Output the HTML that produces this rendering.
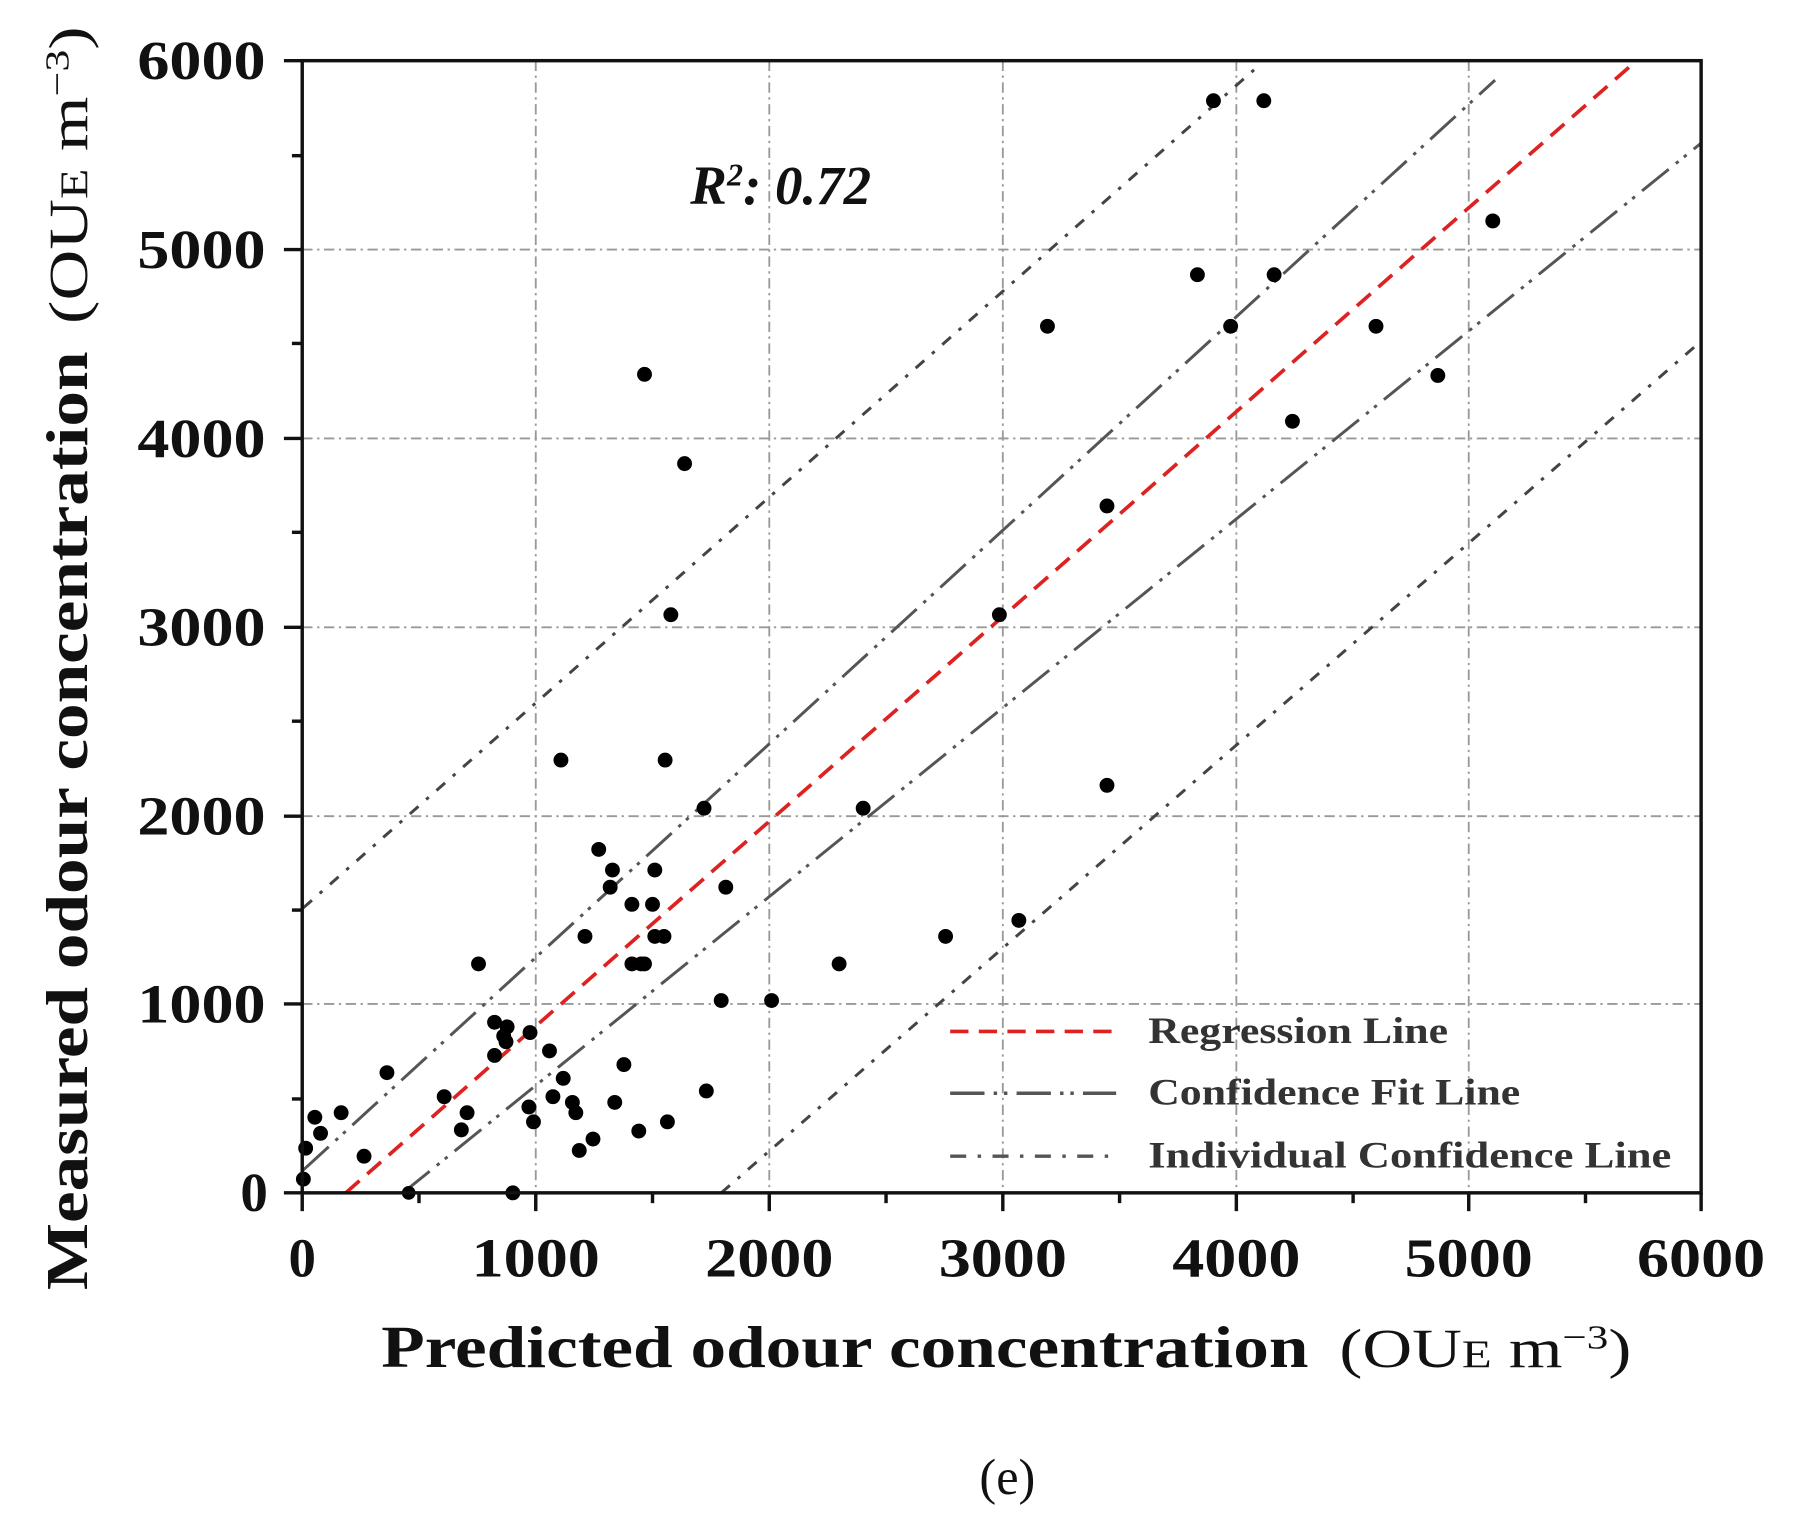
<!DOCTYPE html>
<html><head><meta charset="utf-8"><style>
html,body{margin:0;padding:0;background:#fff;}
svg{display:block;}
text{font-family:"Liberation Serif",serif;}
</style></head><body>
<svg width="1795" height="1531" viewBox="0 0 1568 1337.4" xmlns="http://www.w3.org/2000/svg">
<rect width="1568" height="1338" fill="#fff"/>
<g stroke="#999" stroke-width="1.6" stroke-dasharray="9,4,2,4">
<line x1="468" y1="53" x2="468" y2="1042"/><line x1="672" y1="53" x2="672" y2="1042"/>
<line x1="876" y1="53" x2="876" y2="1042"/><line x1="1080" y1="53" x2="1080" y2="1042"/>
<line x1="1283" y1="53" x2="1283" y2="1042"/>
<line x1="264" y1="218" x2="1486" y2="218"/><line x1="264" y1="383" x2="1486" y2="383"/>
<line x1="264" y1="548" x2="1486" y2="548"/><line x1="264" y1="713" x2="1486" y2="713"/>
<line x1="264" y1="877" x2="1486" y2="877"/>
</g>
<defs><clipPath id="c"><rect x="264" y="53" width="1222" height="989"/></clipPath></defs>
<g clip-path="url(#c)" fill="none" stroke-width="2.6">
<line x1="265" y1="793" x2="1100" y2="57" stroke="#444" stroke-dasharray="10,9,3,9"/>
<line x1="630" y1="1042" x2="1486" y2="298" stroke="#444" stroke-dasharray="10,9,3,9"/>
<line x1="265" y1="1022" x2="1306" y2="70" stroke="#555" stroke-dasharray="30,8,3,6,3,8"/>
<line x1="352" y1="1042" x2="1486" y2="125" stroke="#555" stroke-dasharray="30,8,3,6,3,8"/>
<line x1="302" y1="1042" x2="1425" y2="57" stroke="#d22" stroke-width="3.2" stroke-dasharray="16,9"/>
</g>
<g fill="#000">
<circle cx="265" cy="1030" r="6.5"/><circle cx="267" cy="1003" r="6.5"/><circle cx="275" cy="976" r="6.5"/><circle cx="280" cy="990" r="6.5"/><circle cx="298" cy="972" r="6.5"/><circle cx="318" cy="1010" r="6.5"/><circle cx="338" cy="937" r="6.5"/><circle cx="388" cy="958" r="6.5"/><circle cx="403" cy="987" r="6.5"/><circle cx="408" cy="972" r="6.5"/><circle cx="418" cy="842" r="6.5"/><circle cx="432" cy="893" r="6.5"/><circle cx="432" cy="922" r="6.5"/><circle cx="440" cy="905" r="6.5"/><circle cx="443" cy="897" r="6.5"/><circle cx="442" cy="910" r="6.5"/><circle cx="463" cy="902" r="6.5"/><circle cx="462" cy="967" r="6.5"/><circle cx="466" cy="980" r="6.5"/><circle cx="480" cy="918" r="6.5"/><circle cx="483" cy="958" r="6.5"/><circle cx="492" cy="942" r="6.5"/><circle cx="500" cy="963" r="6.5"/><circle cx="503" cy="972" r="6.5"/><circle cx="506" cy="1005" r="6.5"/><circle cx="518" cy="995" r="6.5"/><circle cx="523" cy="742" r="6.5"/><circle cx="533" cy="775" r="6.5"/><circle cx="535" cy="760" r="6.5"/><circle cx="537" cy="963" r="6.5"/><circle cx="545" cy="930" r="6.5"/><circle cx="552" cy="790" r="6.5"/><circle cx="552" cy="842" r="6.5"/><circle cx="560" cy="842" r="6.5"/><circle cx="558" cy="988" r="6.5"/><circle cx="563" cy="327" r="6.5"/><circle cx="563" cy="842" r="6.5"/><circle cx="570" cy="790" r="6.5"/><circle cx="572" cy="760" r="6.5"/><circle cx="572" cy="818" r="6.5"/><circle cx="580" cy="818" r="6.5"/><circle cx="583" cy="980" r="6.5"/><circle cx="581" cy="664" r="6.5"/><circle cx="586" cy="537" r="6.5"/><circle cx="598" cy="405" r="6.5"/><circle cx="490" cy="664" r="6.5"/><circle cx="511" cy="818" r="6.5"/><circle cx="615" cy="706" r="6.5"/><circle cx="617" cy="953" r="6.5"/><circle cx="630" cy="874" r="6.5"/><circle cx="634" cy="775" r="6.5"/><circle cx="674" cy="874" r="6.5"/><circle cx="733" cy="842" r="6.5"/><circle cx="754" cy="706" r="6.5"/><circle cx="826" cy="818" r="6.5"/><circle cx="873" cy="537" r="6.5"/><circle cx="890" cy="804" r="6.5"/><circle cx="915" cy="285" r="6.5"/><circle cx="967" cy="442" r="6.5"/><circle cx="967" cy="686" r="6.5"/><circle cx="1046" cy="240" r="6.5"/><circle cx="1060" cy="88" r="6.5"/><circle cx="1075" cy="285" r="6.5"/><circle cx="1104" cy="88" r="6.5"/><circle cx="1113" cy="240" r="6.5"/><circle cx="1129" cy="368" r="6.5"/><circle cx="1202" cy="285" r="6.5"/><circle cx="1256" cy="328" r="6.5"/><circle cx="1304" cy="193" r="6.5"/><circle cx="448" cy="1042" r="6.5"/><circle cx="357" cy="1042" r="6"/>
</g>
<rect x="264" y="53" width="1222" height="989" fill="none" stroke="#111" stroke-width="3"/>
<g stroke="#111" stroke-width="3">
<line x1="264" y1="1042" x2="264" y2="1058"/><line x1="468" y1="1042" x2="468" y2="1058"/><line x1="672" y1="1042" x2="672" y2="1058"/><line x1="876" y1="1042" x2="876" y2="1058"/><line x1="1080" y1="1042" x2="1080" y2="1058"/><line x1="1283" y1="1042" x2="1283" y2="1058"/><line x1="1486" y1="1042" x2="1486" y2="1058"/>
<line x1="366" y1="1042" x2="366" y2="1051"/><line x1="570" y1="1042" x2="570" y2="1051"/><line x1="774" y1="1042" x2="774" y2="1051"/><line x1="978" y1="1042" x2="978" y2="1051"/><line x1="1182" y1="1042" x2="1182" y2="1051"/><line x1="1385" y1="1042" x2="1385" y2="1051"/>
<line x1="248" y1="53" x2="264" y2="53"/><line x1="248" y1="218" x2="264" y2="218"/><line x1="248" y1="383" x2="264" y2="383"/><line x1="248" y1="548" x2="264" y2="548"/><line x1="248" y1="713" x2="264" y2="713"/><line x1="248" y1="877" x2="264" y2="877"/><line x1="248" y1="1042" x2="264" y2="1042"/>
<line x1="255" y1="136" x2="264" y2="136"/><line x1="255" y1="300" x2="264" y2="300"/><line x1="255" y1="465" x2="264" y2="465"/><line x1="255" y1="630" x2="264" y2="630"/><line x1="255" y1="795" x2="264" y2="795"/><line x1="255" y1="960" x2="264" y2="960"/>
</g>
<g font-size="48" font-weight="bold" fill="#111" text-anchor="middle">
<text x="264" y="1115">0</text>
<text x="412" y="1115" text-anchor="start" textLength="112" lengthAdjust="spacingAndGlyphs">1000</text>
<text x="616" y="1115" text-anchor="start" textLength="112" lengthAdjust="spacingAndGlyphs">2000</text>
<text x="820" y="1115" text-anchor="start" textLength="112" lengthAdjust="spacingAndGlyphs">3000</text>
<text x="1024" y="1115" text-anchor="start" textLength="112" lengthAdjust="spacingAndGlyphs">4000</text>
<text x="1227" y="1115" text-anchor="start" textLength="112" lengthAdjust="spacingAndGlyphs">5000</text>
<text x="1430" y="1115" text-anchor="start" textLength="112" lengthAdjust="spacingAndGlyphs">6000</text>
</g>
<g font-size="48" font-weight="bold" fill="#111">
<text x="120" y="69" textLength="112" lengthAdjust="spacingAndGlyphs">6000</text>
<text x="120" y="234" textLength="112" lengthAdjust="spacingAndGlyphs">5000</text>
<text x="120" y="399" textLength="112" lengthAdjust="spacingAndGlyphs">4000</text>
<text x="120" y="564" textLength="112" lengthAdjust="spacingAndGlyphs">3000</text>
<text x="120" y="729" textLength="112" lengthAdjust="spacingAndGlyphs">2000</text>
<text x="120" y="893" textLength="112" lengthAdjust="spacingAndGlyphs">1000</text>
<text x="234" y="1058" text-anchor="end">0</text>
</g>
<text x="333" y="1194" font-size="52" font-weight="bold" fill="#111" textLength="810" lengthAdjust="spacingAndGlyphs">Predicted odour concentration</text>
<text x="1170" y="1194" font-size="48" fill="#111" textLength="255" lengthAdjust="spacingAndGlyphs">(OU<tspan font-size="34">E</tspan> m<tspan font-size="30" dy="-16">−3</tspan><tspan dy="16">)</tspan></text>
<g transform="translate(76,0) rotate(-90)">
<text x="-1127" y="0" font-size="52" font-weight="bold" fill="#111" textLength="820" lengthAdjust="spacingAndGlyphs">Measured odour concentration</text>
<text x="-283" y="0" font-size="48" fill="#111" textLength="260" lengthAdjust="spacingAndGlyphs">(OU<tspan font-size="34">E</tspan> m<tspan font-size="30" dy="-16">−3</tspan><tspan dy="16">)</tspan></text>
</g>
<text x="603" y="178" font-size="48" font-style="italic" font-weight="bold" fill="#111">R<tspan font-size="28" dy="-16">2</tspan><tspan dy="16">: 0.72</tspan></text>
<text x="880" y="1305" font-size="44" fill="#111" text-anchor="middle">(e)</text>
<line x1="830" y1="901" x2="975" y2="901" stroke="#d22" stroke-width="3.2" stroke-dasharray="16,9"/>
<line x1="830" y1="955" x2="975" y2="955" stroke="#555" stroke-width="3" stroke-dasharray="30,8,3,6,3,8"/>
<line x1="830" y1="1010" x2="975" y2="1010" stroke="#555" stroke-width="3" stroke-dasharray="14,10,3,10"/>
<g font-size="32" font-weight="bold" fill="#333">
<text x="1003" y="911" textLength="262" lengthAdjust="spacingAndGlyphs">Regression Line</text>
<text x="1003" y="965" textLength="325" lengthAdjust="spacingAndGlyphs">Confidence Fit Line</text>
<text x="1003" y="1020" textLength="457" lengthAdjust="spacingAndGlyphs">Individual Confidence Line</text>
</g>
</svg>
</body></html>
